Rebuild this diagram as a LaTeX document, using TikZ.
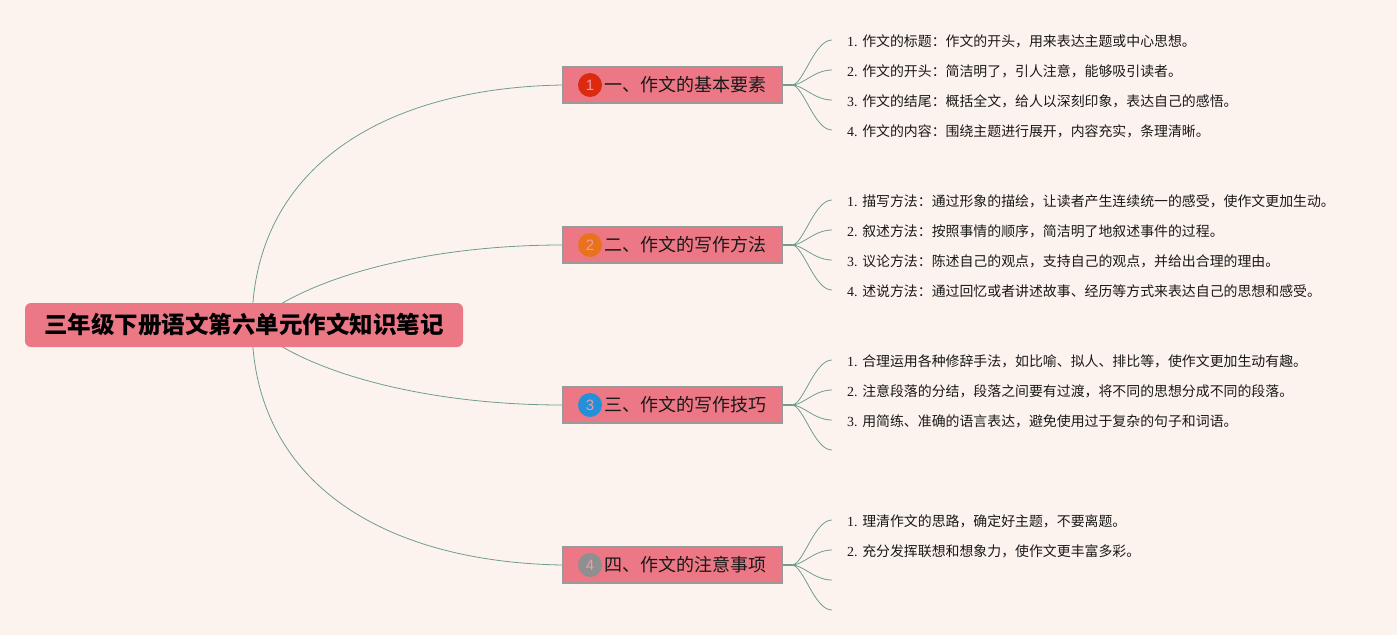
\documentclass[tikz,border=0pt]{standalone}
\usepackage{fontspec}
\setmainfont{Liberation Serif}
\newfontfamily\cjk{Noto Sans CJK SC}
\newfontfamily\numfont{Liberation Sans}
\usetikzlibrary{backgrounds}
\definecolor{bgc}{HTML}{FDF3EE}
\definecolor{boxc}{HTML}{EC7886}
\definecolor{edgec}{HTML}{9A9A9A}
\definecolor{linec}{HTML}{6E9E8A}
\definecolor{cA}{HTML}{DC2A10}
\definecolor{cB}{HTML}{E8721E}
\definecolor{cC}{HTML}{2490D8}
\definecolor{cD}{HTML}{8F8F8F}
\definecolor{numc}{HTML}{F29AA6}
\tikzset{
  rootbox/.style={fill=boxc, rounded corners=6pt, minimum width=438pt, minimum height=44pt,
    inner sep=0pt, font=\cjk\bfseries\fontsize{23.5}{26}\selectfont, text=black},
  branchbox/.style={fill=boxc, draw=edgec, line width=1.2pt, minimum width=219pt, minimum height=36pt,
    inner sep=0pt, font=\cjk\fontsize{18}{20}\selectfont, text=black!90},
  numdot/.style={circle, minimum size=24pt, inner sep=0pt, text=numc, font=\numfont\fontsize{15}{15}\selectfont},
  leaftext/.style={anchor=west, inner sep=0pt, font=\fontsize{13.9}{16}\selectfont, text=black!90},
  conn/.style={draw=linec, line width=0.8pt},
  hubline/.style={draw=linec, line width=2.2pt}
}
\begin{document}
\begin{tikzpicture}[x=1pt,y=-1pt]
\useasboundingbox (0,0) rectangle (1397,635);
% root
\node[rootbox] (rt) at (244,325) {三年级下册语文第六单元作文知识笔记};
\coordinate (rs) at (252,325);
% branches
\node[branchbox] (b1) at (672.5,85) {\hspace*{26pt}一、作文的基本要素};
\node[branchbox] (b2) at (672.5,245) {\hspace*{26pt}二、作文的写作方法};
\node[branchbox] (b3) at (672.5,405) {\hspace*{26pt}三、作文的写作技巧};
\node[branchbox] (b4) at (672.5,565) {\hspace*{26pt}四、作文的注意事项};
\node[numdot, fill=cA] (n1) at (590,85) {1};
\node[numdot, fill=cB] (n2) at (590,245) {2};
\node[numdot, fill=cC] (n3) at (590,405) {3};
\node[numdot, fill=cD] (n4) at (590,565) {4};
% hubs
\foreach \i in {1,2,3,4}{
  \coordinate (h\i) at ([xshift=9pt]b\i.east);
}
% leaf ends
\foreach \i/\c in {1/85,2/245,3/405,4/565}{
  \coordinate (e\i1) at (832,\c-45);
  \coordinate (e\i2) at (832,\c-15);
  \coordinate (e\i3) at (832,\c+15);
  \coordinate (e\i4) at (832,\c+45);
}
% leaf texts
\node[leaftext] (t11) at ([xshift=15pt,yshift=-1pt]e11) {1. {\cjk 作文的标题：作文的开头，用来表达主题或中心思想。}};
\node[leaftext] (t12) at ([xshift=15pt,yshift=-1pt]e12) {2. {\cjk 作文的开头：简洁明了，引人注意，能够吸引读者。}};
\node[leaftext] (t13) at ([xshift=15pt,yshift=-1pt]e13) {3. {\cjk 作文的结尾：概括全文，给人以深刻印象，表达自己的感悟。}};
\node[leaftext] (t14) at ([xshift=15pt,yshift=-1pt]e14) {4. {\cjk 作文的内容：围绕主题进行展开，内容充实，条理清晰。}};
\node[leaftext] (t21) at ([xshift=15pt,yshift=-1pt]e21) {1. {\cjk 描写方法：通过形象的描绘，让读者产生连续统一的感受，使作文更加生动。}};
\node[leaftext] (t22) at ([xshift=15pt,yshift=-1pt]e22) {2. {\cjk 叙述方法：按照事情的顺序，简洁明了地叙述事件的过程。}};
\node[leaftext] (t23) at ([xshift=15pt,yshift=-1pt]e23) {3. {\cjk 议论方法：陈述自己的观点，支持自己的观点，并给出合理的理由。}};
\node[leaftext] (t24) at ([xshift=15pt,yshift=-1pt]e24) {4. {\cjk 述说方法：通过回忆或者讲述故事、经历等方式来表达自己的思想和感受。}};
\node[leaftext] (t31) at ([xshift=15pt,yshift=-1pt]e31) {1. {\cjk 合理运用各种修辞手法，如比喻、拟人、排比等，使作文更加生动有趣。}};
\node[leaftext] (t32) at ([xshift=15pt,yshift=-1pt]e32) {2. {\cjk 注意段落的分结，段落之间要有过渡，将不同的思想分成不同的段落。}};
\node[leaftext] (t33) at ([xshift=15pt,yshift=-1pt]e33) {3. {\cjk 用简练、准确的语言表达，避免使用过于复杂的句子和词语。}};
\node[leaftext] (t41) at ([xshift=15pt,yshift=-1pt]e41) {1. {\cjk 理清作文的思路，确定好主题，不要离题。}};
\node[leaftext] (t42) at ([xshift=15pt,yshift=-1pt]e42) {2. {\cjk 充分发挥联想和想象力，使作文更丰富多彩。}};
\begin{pgfonlayer}{background}
\fill[bgc] (0,0) rectangle (1397,635);
% root to branches
\draw[conn] (rs) .. controls (252,170) and (380,88) .. (b1.west);
\draw[conn] (rs) .. controls (300,280) and (420,245) .. (b2.west);
\draw[conn] (rs) .. controls (300,370) and (420,405) .. (b3.west);
\draw[conn] (rs) .. controls (252,480) and (380,562) .. (b4.west);
% branches to leaves
\foreach \i in {1,2,3,4}{
  \draw[hubline] (b\i.east) -- (h\i);
  \foreach \j in {1,2,3,4}{
    \draw[conn] (h\i) .. controls ([xshift=12pt]h\i) and ([xshift=-18pt]e\i\j) .. (e\i\j);
  }
}
\end{pgfonlayer}
\end{tikzpicture}
\end{document}
